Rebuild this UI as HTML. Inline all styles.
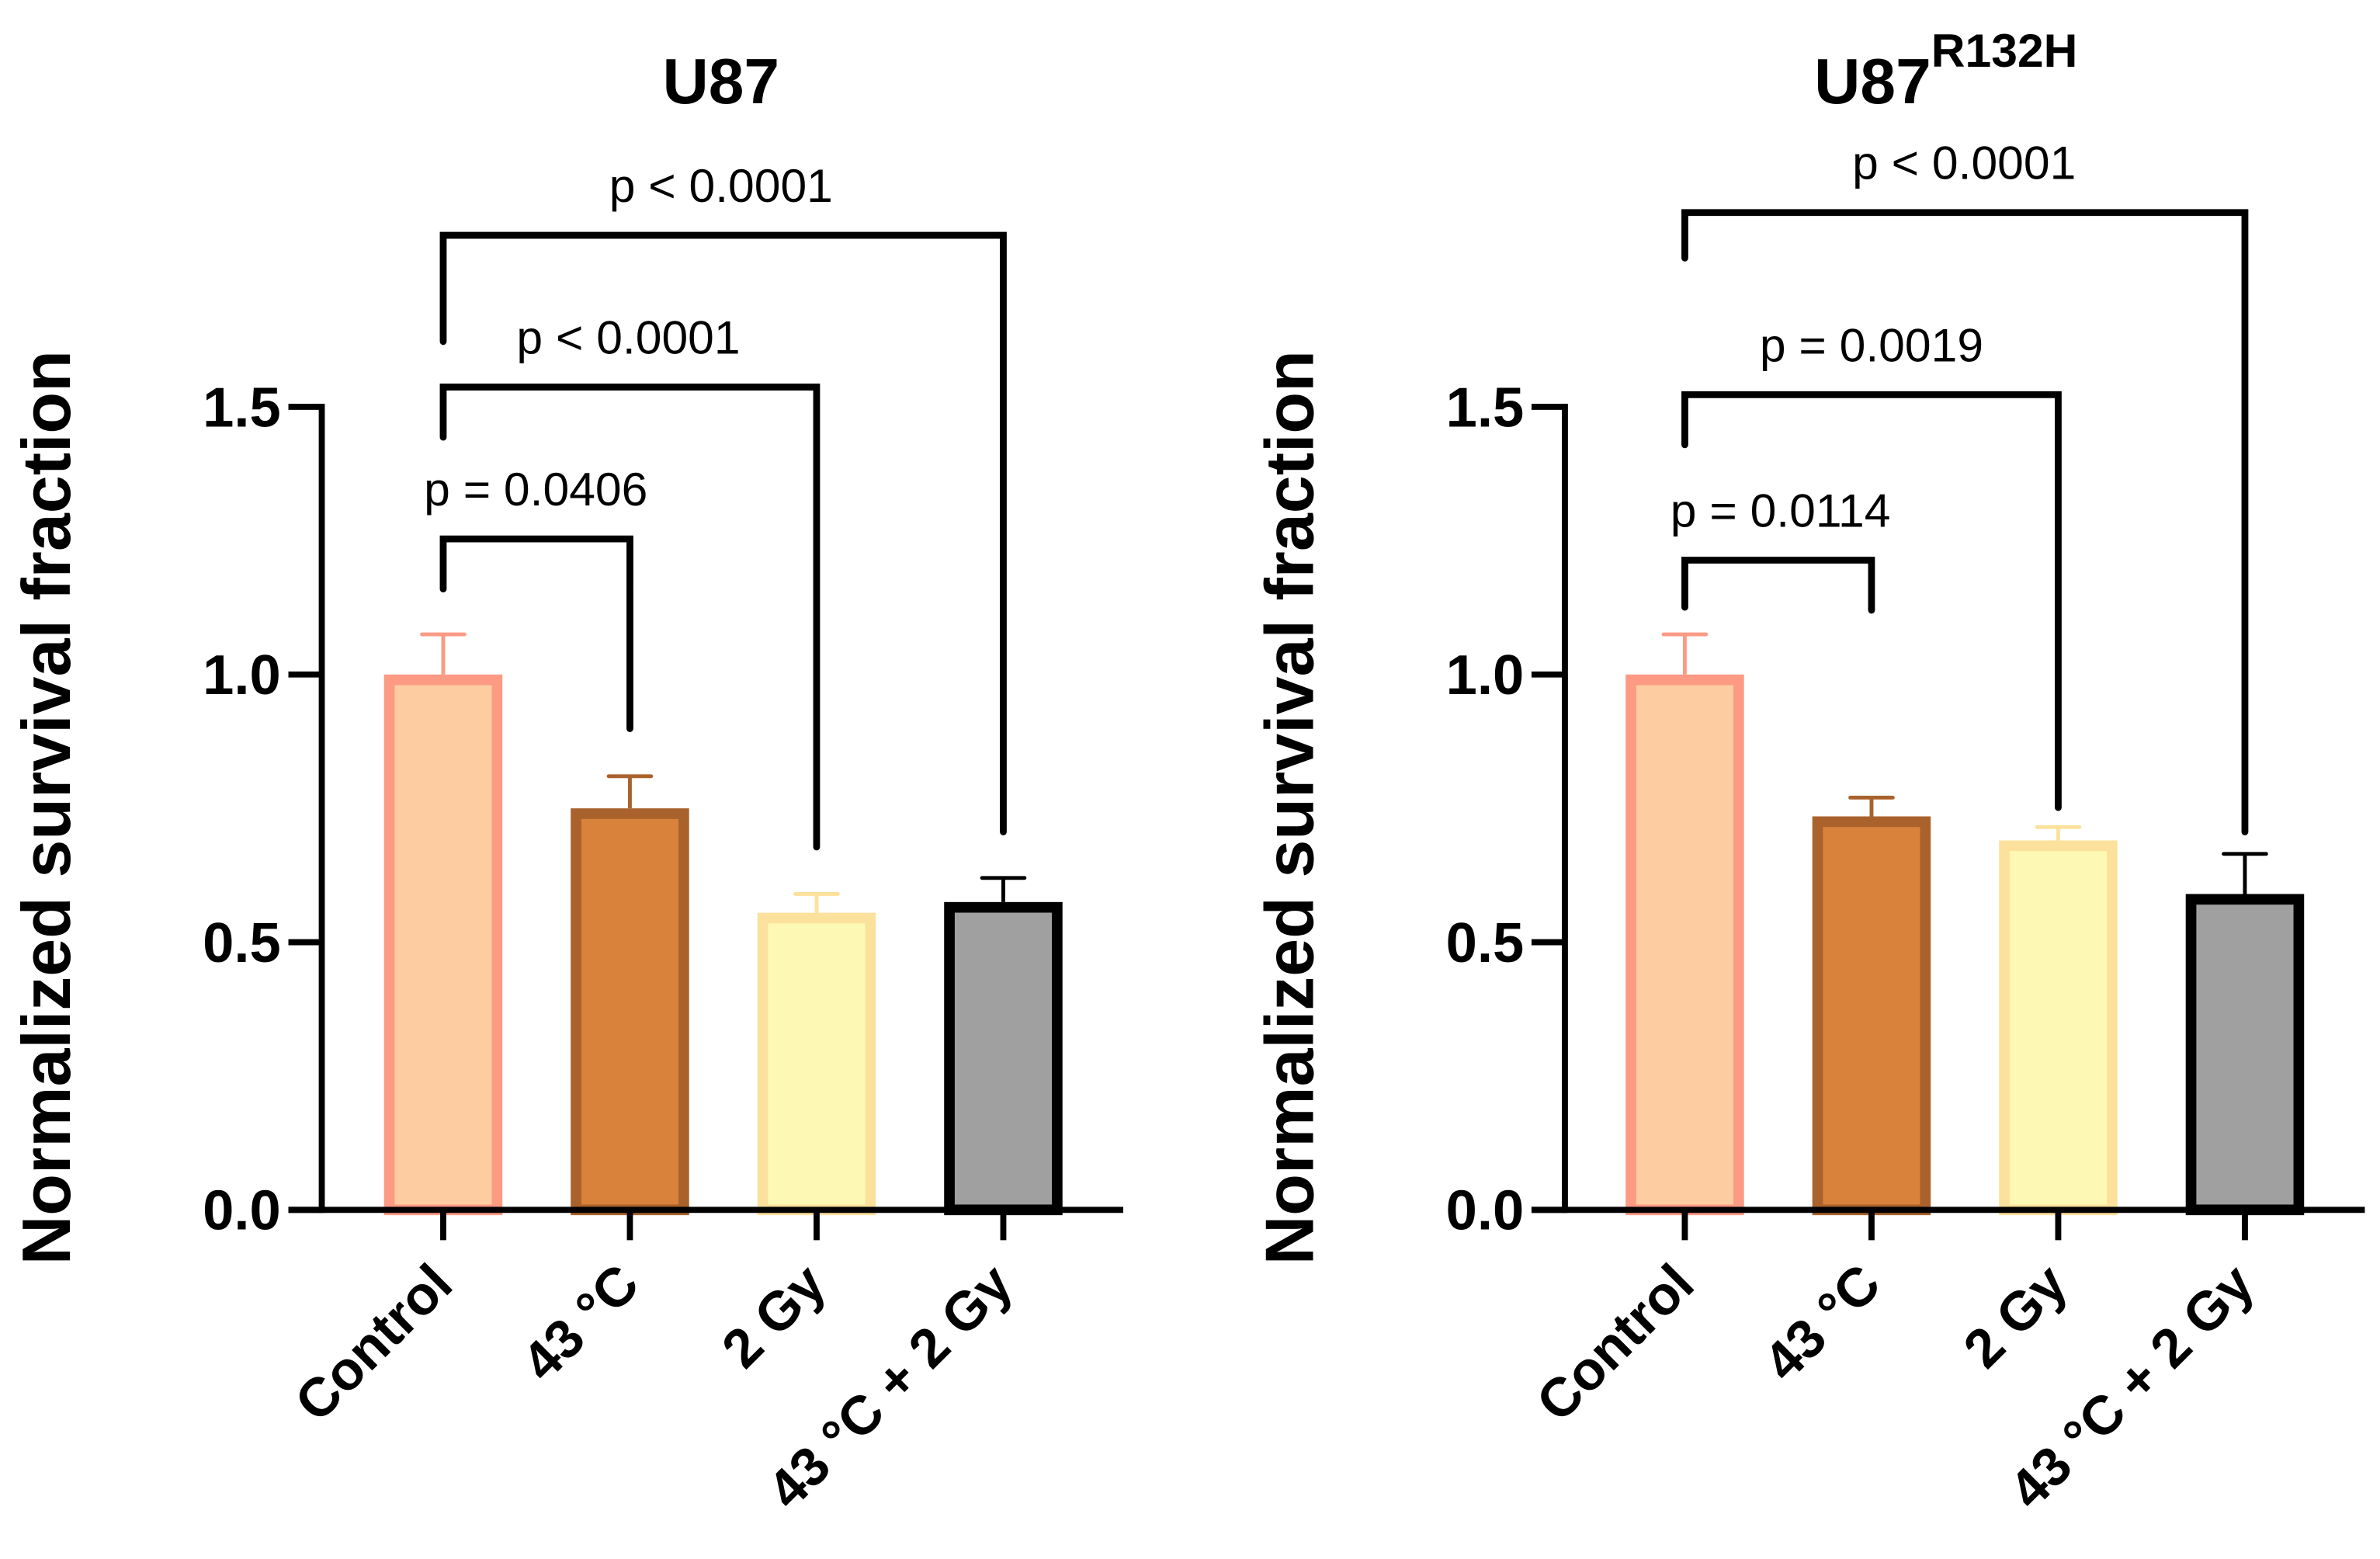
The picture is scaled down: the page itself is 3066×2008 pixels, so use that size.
<!DOCTYPE html>
<html><head><meta charset="utf-8"><style>
html,body{margin:0;padding:0;background:#fff;}
svg{display:block;}
text{font-family:"Liberation Sans",Arial,sans-serif;}
</style></head><body>
<svg id="chart" width="3066" height="2008" viewBox="0 0 1568 1027" preserveAspectRatio="none" xmlns="http://www.w3.org/2000/svg"></svg>
<script>
const categories = ["Control", "43 °C", "2 Gy", "43 °C + 2 Gy"];
const u87Means = [1.0, 0.75, 0.555, 0.575];
const u87Errors = [0.075, 0.06, 0.035, 0.045];
const mutMeans = [1.0, 0.735, 0.69, 0.59];
const mutErrors = [0.075, 0.035, 0.025, 0.075];
const yTicks = [0.0, 0.5, 1.0, 1.5];
const yTickLabels = ["0.0", "0.5", "1.0", "1.5"];
const u87PLabels = ["p = 0.0406", "p < 0.0001", "p < 0.0001"];
const mutPLabels = ["p = 0.0114", "p = 0.0019", "p < 0.0001"];

const fills = ["#FDCCA1", "#D9823B", "#FDF8B3", "#A0A0A0"];
const strokes = ["#FC9A84", "#A9622C", "#FCE19C", "#000000"];
const NS = "http://www.w3.org/2000/svg";
const svg = document.getElementById("chart");
function mk(tag, attrs, parent) {
  const e = document.createElementNS(NS, tag);
  for (const k in attrs) e.setAttribute(k, attrs[k]);
  (parent || svg).appendChild(e);
  return e;
}
const Y0 = 797, Y15 = 268;
function yScale(v) { return Y0 - (Y0 - Y15) * v / 1.5; }

function panel(cfg) {
  const g = mk("g", {});
  
  
  const xs = cfg.xs;
  function xScale(i) { return xs[0] + i * (xs[1] - xs[0]); }
  cfg.means.forEach((m, i) => {
    const cx = xScale(i), w = 78, sw = 7;
    const top = yScale(m);
    const r = mk("rect", {x: cx - w/2 + sw/2, y: top + sw/2, width: w - sw, height: Y0 - top - sw/2, fill: fills[i], stroke: strokes[i], "stroke-width": sw}, g);
    
    
    const et = yScale(m + cfg.errs[i]);
    const e1 = mk("line", {x1: cx, x2: cx, y1: top, y2: et, stroke: strokes[i], "stroke-width": 2.5}, g);
    
    
    const e2 = mk("line", {x1: cx - 14, x2: cx + 14, y1: et, y2: et, stroke: strokes[i], "stroke-width": 2.5, "stroke-linecap": "round"}, g);
    
    
  });
  const ya = mk("line", {x1: cfg.ax, x2: cfg.ax, y1: Y15 - 2, y2: Y0 + 2, stroke: "#000", "stroke-width": 4}, g);
  
  
  const xa = mk("line", {x1: cfg.ax - 22, x2: cfg.axEnd, y1: Y0, y2: Y0, stroke: "#000", "stroke-width": 4}, g);
  
  
  yTicks.forEach((t, i) => {
    const y = yScale(t);
    const tk = mk("line", {x1: cfg.ax - 22, x2: cfg.ax, y1: y, y2: y, stroke: "#000", "stroke-width": 4}, g);
    
    
    const tl = mk("text", {x: cfg.ax - 27, y: y + 13, "font-size": 37, "font-weight": "bold", "text-anchor": "end"}, g);
    tl.textContent = yTickLabels[i];
    
    
  });
  categories.forEach((c, i) => {
    const cx = xScale(i);
    const tk = mk("line", {x1: cx, x2: cx, y1: Y0, y2: Y0 + 20, stroke: "#000", "stroke-width": 4}, g);
    
    
    const tl = mk("text", {x: cx + 8, y: 848, "font-size": 36, "font-weight": "bold", "text-anchor": "end", transform: `rotate(-45 ${cx + 8} 848)`}, g);
    tl.textContent = c;
    
    
  });
  const yt = mk("text", {x: 0, y: 0, "font-size": 45, "font-weight": "bold", "text-anchor": "middle", transform: `translate(${cfg.ax - 166} 532) rotate(-90)`}, g);
  yt.textContent = "Normalized survival fraction";
  
  
  cfg.brackets.forEach((b, k) => {
    const x1 = xScale(0), x2 = xScale(k + 1);
    const p = mk("path", {d: `M${x1},${b[1]} L${x1},${b[0]} L${x2},${b[0]} L${x2},${b[2]}`, fill: "none", stroke: "#000", "stroke-width": 4.5, "stroke-linecap": "round"}, g);
    
    
    const t = mk("text", {x: b[3], y: b[0] - 22, "font-size": 31, "text-anchor": "middle"}, g);
    t.textContent = cfg.plabels[k];
    
    
  });
  const title = mk("text", {x: cfg.titleX, y: 68, "font-size": 42, "font-weight": "bold", "text-anchor": "middle"}, g);
  
  
  title.textContent = "U87";
  if (cfg.sup) {
    const ts = mk("tspan", {"font-size": 31, dy: -24}, title);
    ts.textContent = cfg.sup;
  }
}
panel({name: "u87-panel", xs: [292, 415], ax: 212, axEnd: 740, means: u87Means, errs: u87Errors,
  brackets: [[355, 388, 480, 353], [255, 288, 558, 414], [155, 225, 548, 475]], plabels: u87PLabels, titleX: 475, sup: ""});
panel({name: "u87-r132h-panel", xs: [1110, 1233], ax: 1031, axEnd: 1558, means: mutMeans, errs: mutErrors,
  brackets: [[369, 400, 402, 1173], [260, 293, 532, 1233], [140, 170, 548, 1294]], plabels: mutPLabels, titleX: 1282, sup: "R132H"});
</script>
</body></html>
